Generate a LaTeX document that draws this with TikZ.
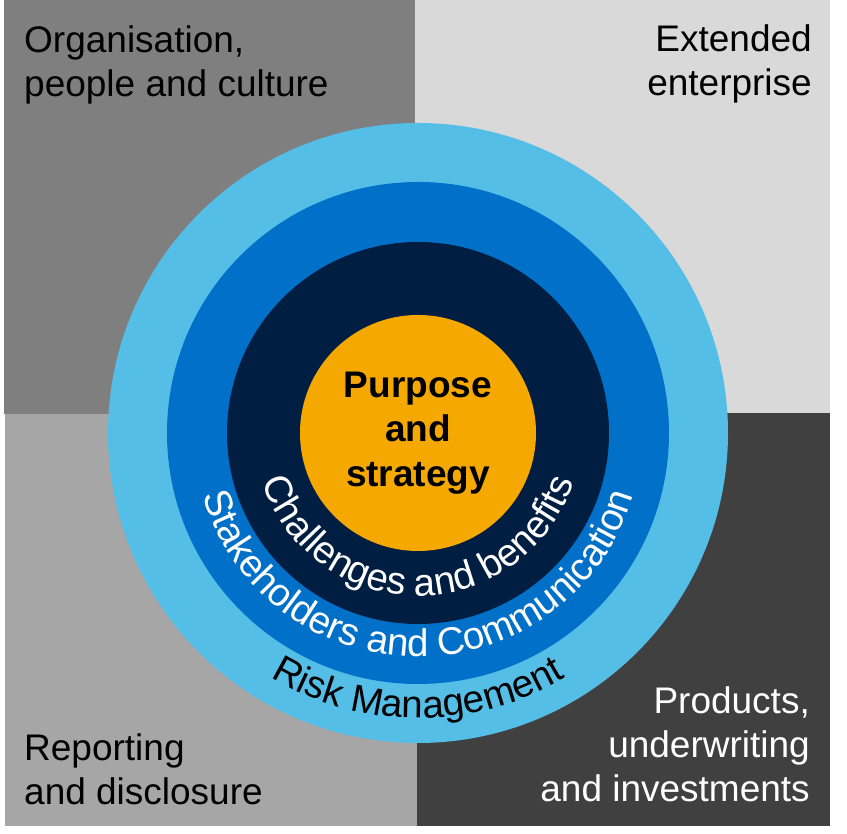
\documentclass[tikz,border=0pt]{standalone}
\usepackage{fontspec}
\setmainfont{Liberation Sans}
\usetikzlibrary{decorations.text}
\definecolor{qTL}{HTML}{7F7F7F}
\definecolor{qTR}{HTML}{D9D9D9}
\definecolor{qBL}{HTML}{A6A6A6}
\definecolor{qBR}{HTML}{404040}
\definecolor{ringA}{HTML}{55BEE7}
\definecolor{ringB}{HTML}{0070C8}
\definecolor{ringC}{HTML}{001E41}
\definecolor{core}{HTML}{F4A800}
\newcommand{\cornerfont}{\fontsize{37}{44}\selectfont}
\newcommand{\ringfont}{\fontsize{38.5}{42}\selectfont}
\begin{document}
\begin{tikzpicture}[x=1pt,y=1pt,
  cornerlabel/.style={inner sep=0pt, font=\cornerfont},
  ringtext/.style={decorate, decoration={text along path, text align=center, text={#1}}}]
\useasboundingbox (0,0) rectangle (847,834);
\fill[white] (0,0) rectangle (847,834);
% quadrants
\fill[qTL] (4,420) rectangle (415,834);
\fill[qTR] (415,421) rectangle (830,834);
\fill[qBL] (5,8) rectangle (417,420);
\fill[qBR] (417,8) rectangle (830,421);
% circles
\coordinate (c) at (418,401);
\fill[ringA] (c) circle (310);
\fill[ringB] (c) circle (251);
\fill[ringC] (c) circle (191);
\fill[core] (c) circle (118);
% centre text
\node[inner sep=0pt, align=center, font=\bfseries\fontsize{37}{44.5}\selectfont] (purpose) at (c) {Purpose\\and\\strategy};
% ring texts
\path[shift={(c)}, ringtext={|\ringfont\color{white}|Challenges and benefits}] (180:163) arc[start angle=180, end angle=360, radius=163];
\path[shift={(c)}, ringtext={|\ringfont\color{white}|Stakeholders and Communication}] (180:224) arc[start angle=180, end angle=360, radius=224];
\path[shift={(c)}, ringtext={|\ringfont\color{black}|Risk Management}] (180:285) arc[start angle=180, end angle=360, radius=285];
% corner labels
\node[cornerlabel, anchor=north west, align=left] (org) at (24,808) {Organisation,\\people and culture};
\node[cornerlabel, anchor=north east, align=right] (ext) at (812,809) {Extended\\enterprise};
\node[cornerlabel, anchor=north west, align=left] (rep) at (24,101) {Reporting\\and disclosure};
\node[cornerlabel, anchor=north east, align=right, text=white] (prod) at (810,148) {Products,\\underwriting\\and investments};
\end{tikzpicture}
\end{document}
